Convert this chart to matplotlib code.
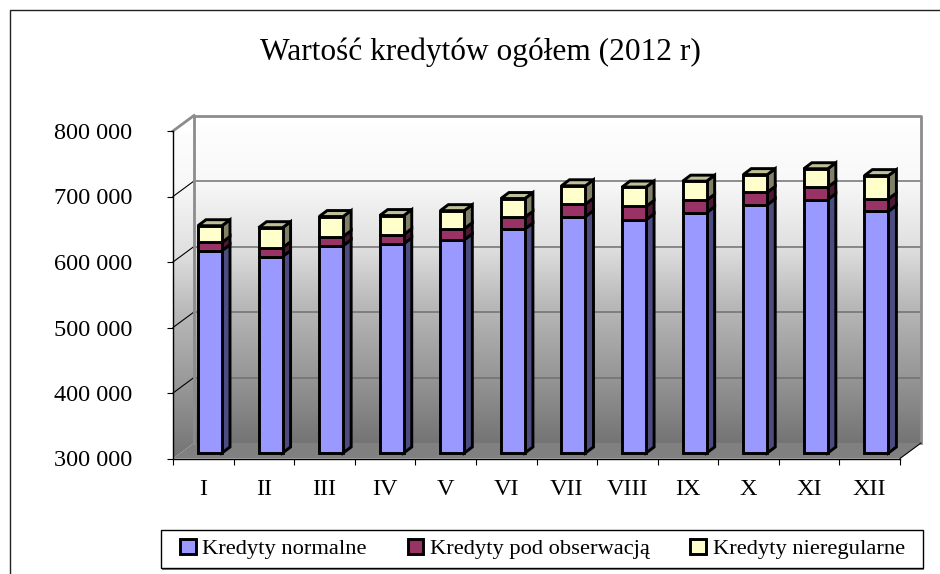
import numpy as np
import matplotlib
matplotlib.use('Agg')
import matplotlib.pyplot as plt
from matplotlib.colors import LinearSegmentedColormap
from matplotlib.lines import Line2D
from matplotlib.patches import Patch, Polygon, Rectangle
from matplotlib.transforms import Affine2D

months = ['I', 'II', 'III', 'IV', 'V', 'VI', 'VII', 'VIII', 'IX', 'X', 'XI', 'XII']
normalne = [609000, 600000, 616500, 619500, 625500, 642000, 661000, 656000, 667000, 679000, 687000, 669000]
pod_obserwacja = [12500, 13500, 14000, 14000, 17000, 18000, 19000, 20500, 19000, 19000, 19000, 19000]
nieregularne = [25500, 30500, 30500, 29000, 27500, 28500, 28000, 29500, 29000, 27000, 28000, 35500]
y_ticks = [300000, 400000, 500000, 600000, 700000, 800000]
series_names = ['Kredyty normalne', 'Kredyty pod obserwacją', 'Kredyty nieregularne']

# front, side and top colours of each series
front_cols = ['#9999ff', '#993366', '#ffffcc']
side_cols = ['#4c4c80', '#4c1933', '#808066']
top_col = '#bfbf99'

W, H = 940, 574
plt.rcParams['font.family'] = ['Liberation Serif', 'DejaVu Serif']

fig = plt.figure(figsize=(W / 100, H / 100), dpi=100)
ax = fig.add_axes([173 / W, (H - 458.5) / H, 727 / W, 327.5 / H])
ax.set_facecolor('none')

# pixels to data units
px_x = 12 / 727
px_y = 500000 / 327.5
wall_dx, wall_dy = 21, 15.5
back = ax.transData + Affine2D().translate(wall_dx, wall_dy)
bar_shift = ax.transData + Affine2D().translate(6.7, 5.5)

grad = np.linspace(0, 1, 256).reshape(-1, 1)
wall_stops = [(0, '#747474'), (0.2, '#969696'), (0.43, '#bababa'), (0.6, '#e0e0e0'), (0.8, '#f8f8f8'), (1, '#ffffff')]
cmap = LinearSegmentedColormap.from_list('wall', wall_stops)
ax.imshow(grad, origin='lower', extent=[0, 12, 300000, 800000], aspect='auto', cmap=cmap,
          transform=back, clip_on=False, zorder=0)

# left wall and floor
dx = wall_dx * px_x
dv = wall_dy * px_y
left_im = ax.imshow(grad, origin='lower', extent=[0, dx, 300000, 800000 + dv], aspect='auto',
                    cmap=cmap, zorder=0)
left_clip = Polygon([[0, 300000], [dx, 300000 + dv], [dx, 800000 + dv], [0, 800000]], transform=ax.transData)
left_im.set_clip_path(left_clip)
ax.add_patch(Polygon([[0, 300000], [dx, 300000 + dv], [12 + dx, 300000 + dv], [12, 300000]],
                     fc='#808080', ec='none', clip_on=False, zorder=0.5))
ax.set_xlim(0, 12)
ax.set_ylim(300000, 800000)

# walls and gridlines
for v in y_ticks[1:-1]:
    ax.plot([0, 12], [v, v], color='#707070', lw=1.1, transform=back, clip_on=False, zorder=1)
    ax.plot([0, dx], [v, v + dv], color='black', lw=0.8, clip_on=False, zorder=1)
ax.plot([0, 0, 12, 12], [300000, 800000, 800000, 300000], color='#8c8c8c', lw=2,
        transform=back, clip_on=False, zorder=1.5)
ax.plot([0, dx], [800000, 800000 + dv], color='#8c8c8c', lw=2, clip_on=False, zorder=1.5)
ax.plot([12, 12 + dx], [300000, 300000 + dv], color='black', lw=0.8, clip_on=False, zorder=1.5)

# stacked bars
x = np.arange(12) + 0.5
bar_w = 24 * px_x
side_x = 8 * px_x
side_v = 6 * px_y
bar_lw = 2.1
bottoms = np.full(12, 300000.0)
for i, (vals, fc, sc) in enumerate(zip([normalne, pod_obserwacja, nieregularne], front_cols, side_cols)):
    tops = np.array(vals, dtype=float) if i == 0 else bottoms + np.array(vals)
    ax.bar(x, tops - bottoms, bottom=bottoms, width=bar_w, color=fc, edgecolor='black',
           linewidth=bar_lw, transform=bar_shift, clip_on=False, zorder=4)
    for xi, b, t in zip(x, bottoms, tops):
        r = xi + bar_w / 2
        ax.add_patch(Polygon([[r, b], [r + side_x, b + side_v], [r + side_x, t + side_v], [r, t]],
                             fc=sc, ec='black', lw=bar_lw, joinstyle='miter', transform=bar_shift,
                             clip_on=False, zorder=3))
    bottoms = tops
for xi, t in zip(x, bottoms):
    l, r = xi - bar_w / 2, xi + bar_w / 2
    ax.add_patch(Polygon([[l, t], [l + side_x, t + side_v], [r + side_x, t + side_v], [r, t]],
                         fc=top_col, ec='black', lw=bar_lw, joinstyle='miter', transform=bar_shift,
                         clip_on=False, zorder=3))

# axes
for s in ['top', 'right']:
    ax.spines[s].set_visible(False)
for s in ['left', 'bottom']:
    ax.spines[s].set_linewidth(1.0)
    ax.spines[s].set_zorder(2)
ax.set_yticks(y_ticks)
ax.set_yticklabels([f'{v:,}'.replace(',', ' ') for v in y_ticks], fontsize=17.5)
ax.tick_params(axis='y', length=4.5, width=0.8, pad=25)
ax.set_xticks(range(13))
ax.set_xticklabels([])
ax.tick_params(axis='x', which='major', length=4, width=0.8)
ax.set_xticks(x, minor=True)
ax.set_xticklabels(months, minor=True, fontsize=17.5)
ax.tick_params(axis='x', which='minor', length=0, pad=15)

fig.suptitle('Wartość kredytów ogółem (2012 r)', x=480 / W, y=1 - 52 / H, va='center', fontsize=22.6)

# legend box is separate so its side padding can differ from the top and bottom
fig.add_artist(Rectangle((162 / W, 1 - 569.5 / H), 762 / W, 37.5 / H, transform=fig.transFigure,
                         fc='#808080', ec='none'))
fig.add_artist(Rectangle((160.5 / W, 1 - 567.5 / H), 762 / W, 37.5 / H, transform=fig.transFigure,
                         fc='white', ec='black', lw=1.0))
handles = [Patch(fc=c, ec='black', lw=2.1) for c in front_cols]
leg = fig.legend(handles, series_names, ncol=3, loc='center', bbox_to_anchor=(542.5 / W, 1 - 549 / H),
                 fontsize=16.2, handlelength=0.7, handleheight=0.7, handletextpad=0.3,
                 columnspacing=1.8, frameon=False, borderpad=0, borderaxespad=0)

# chart area border (left and top only are in the picture)
fig.add_artist(Line2D([9.5 / W, 9.5 / W, 1], [0, 1 - 9.5 / H, 1 - 9.5 / H], color='#222222', lw=1.0))

fig.savefig('out.png', dpi=100)
